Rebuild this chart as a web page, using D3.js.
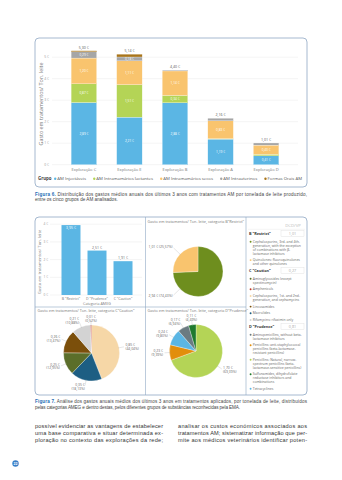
<!DOCTYPE html>
<html>
<head>
<meta charset="utf-8">
<script src="https://cdn.jsdelivr.net/npm/d3@7"></script>
<style>
  html, body { margin: 0; padding: 0; background: #fff; }
  svg { display: block; }
  text { font-family: "Open Sans", "Liberation Sans", sans-serif; }
  .body-text { font-family: "Liberation Sans", Arial, sans-serif; }
</style>
</head>
<body>
<svg id="page" width="342" height="480"></svg>
<script>
// Figura 6: gasto médio anual por exploração e grupo de AM (€/ton. leite)
var farms = ["Exploração C", "Exploração E", "Exploração B", "Exploração A", "Exploração D"];
var groups = ["AM Injectáveis", "AM Intramamários lactantes", "AM Intramamários secos", "AM Intrauterinos", "Formas Orais AM"];
var injectaveis = [2.89, 2.21, 2.88, 1.19, 0.41];
var lactantes = [0.87, 1.51, 0.34, 0.02, 0.07];
var secos = [1.20, 1.11, 1.14, 0.83, 0.43];
var intrauterinos = [0.29, 0.18, 0.04, 0.12, 0.10];
var orais = [0.05, 0.13, 0, 0, 0];
var yTicks6 = [0, 1, 2, 3, 4, 5];

// Figura 7: categorias AMEG
var ameg = ['B "Restrict"', 'D "Prudence"', 'C "Caution"'];
var amegCost = [3.95, 2.51, 1.91];
var yTicks7 = [0, 1, 2, 3, 4];

var restrictCost = [2.94, 1.01];
var cautionCost = [0.85, 0.35, 0.25, 0.26, 0.21, 0.01];
var prudenceCost = [1.70, 0.23, 0.24, 0.17, 0.11];

var dcdvp = ["1,01", "0,27", "0,81"];

// global vars
var blue = "#5bb6e4", green = "#b4d456", orange = "#f9c46e", grey = "#a6a6a6", brown = "#a8741a";
var frame = "#8fa7c4";
var groupColors = [blue, green, orange, grey, brown];

var restrictColors = ["#6e8e1e", "#f9c46e"];
var cautionColors = ["#f6d7a7", "#1d5e83", "#5b6e2a", "#7b4f0b", "#d3d3d3", "#c0392b"];
var prudenceColors = ["#b4d456", "#e28e0c", "#5bb6e4", "#6b7b82", "#1f7a2e"];

var legendRows = [
  { head: ameg[0], value: dcdvp[0], items: [
    { color: "#6e8e1e", lines: ["Cephalosporins, 3rd- and 4th-", "generation, with the exception", "of combinations with β-", "lactamase inhibitors"] },
    { color: "#f9c46e", lines: ["Quinolones: fluoroquinolones", "and other quinolones"] }
  ] },
  { head: ameg[2], value: dcdvp[1], items: [
    { color: "#5b6e2a", lines: ["Aminoglycosides (except", "spectinomycin)"] },
    { color: "#c0392b", lines: ["Amphenicols"] },
    { color: "#f6d7a7", lines: ["Cephalosporins, 1st- and 2nd-", "generation, and cephamycins"] },
    { color: "#7b4f0b", lines: ["Lincosamides"] },
    { color: "#1d5e83", lines: ["Macrolides"] },
    { color: "#d3d3d3", lines: ["Rifamycins: rifaximin only"] }
  ] },
  { head: ameg[1], value: dcdvp[2], items: [
    { color: "#6b7b82", lines: ["Aminopenicillins, without beta-", "lactamase inhibitors"] },
    { color: "#e28e0c", lines: ["Penicillins: anti-staphylococcal", "penicillins (beta-lactamase-", "resistant penicillins)"] },
    { color: "#b4d456", lines: ["Penicillins: Natural, narrow-", "spectrum penicillins (beta-", "lactamase-sensitive penicillins)"] },
    { color: "#1f7a2e", lines: ["Sulfonamides, dihydrofolate", "reductase inhibitors and", "combinations"] },
    { color: "#5bb6e4", lines: ["Tetracyclines"] }
  ] }
];

var svg = d3.select("#page");
svg.append("rect").attr("width", 342).attr("height", 480).attr("fill", "#fff");

var num = function (v) { return d3.format(".2f")(v).replace(".", ","); };
var euro = function (v) { return num(v) + " €"; };
var pct = function (v) { return "(" + num(v * 100) + "%)"; };

function panel(x, y, w, h) {
  svg.append("rect")
    .attr("x", x).attr("y", y).attr("width", w).attr("height", h).attr("rx", 4)
    .attr("fill", "#fff").attr("stroke", frame).attr("stroke-width", 0.8);
}

// ---------- Figura 6 ----------
panel(35, 38, 272, 149);

var x6 = d3.scaleBand().domain(farms).range([52, 298]).paddingInner(0.44).paddingOuter(0.42);
var y6 = d3.scaleLinear().domain([0, 5]).range([164.7, 57.2]);

var g6 = svg.append("g");
g6.selectAll(".grid").data(yTicks6).enter().append("line")
  .attr("x1", 52).attr("x2", 298)
  .attr("y1", function (d) { return y6(d); }).attr("y2", function (d) { return y6(d); })
  .attr("stroke", "#e8e8e8").attr("stroke-width", 0.5);
g6.selectAll(".tick").data(yTicks6).enter().append("text")
  .attr("x", 49).attr("y", function (d) { return y6(d) + 1.2; })
  .attr("text-anchor", "end").attr("font-size", 3.4).attr("fill", "#999")
  .text(function (d) { return d + " €"; });

var rows6 = farms.map(function (f, i) {
  var r = { farm: f };
  r[groups[0]] = injectaveis[i];
  r[groups[1]] = lactantes[i];
  r[groups[2]] = secos[i];
  r[groups[3]] = intrauterinos[i];
  r[groups[4]] = orais[i];
  return r;
});
var series6 = d3.stack().keys(groups)(rows6);

series6.forEach(function (s, k) {
  var layer = g6.append("g");
  layer.selectAll("rect").data(s).enter().append("rect")
    .attr("x", function (d) { return x6(d.data.farm); })
    .attr("y", function (d) { return y6(d[1]); })
    .attr("width", x6.bandwidth())
    .attr("height", function (d) { return Math.max(0, y6(d[0]) - y6(d[1])); })
    .attr("fill", groupColors[k])
    .attr("stroke", "#fff").attr("stroke-width", 0.25);
  layer.selectAll("text").data(s.filter(function (d) { return d[1] - d[0] >= 0.13; })).enter().append("text")
    .attr("x", function (d) { return x6(d.data.farm) + x6.bandwidth() / 2; })
    .attr("y", function (d) { return (y6(d[0]) + y6(d[1])) / 2; })
    .attr("dy", "0.35em")
    .attr("text-anchor", "middle")
    .attr("font-size", function (d) { return Math.min(3.2, (y6(d[0]) - y6(d[1])) * 0.95); })
    .attr("fill", "#fff")
    .text(function (d) { return euro(d[1] - d[0]); });
});

// totals above each bar
g6.selectAll(".total").data(rows6).enter().append("text")
  .attr("x", function (d) { return x6(d.farm) + x6.bandwidth() / 2; })
  .attr("y", function (d) { return y6(d3.sum(groups, function (k) { return d[k]; })) - 1.8; })
  .attr("text-anchor", "middle").attr("font-size", 3.6).attr("fill", "#555")
  .text(function (d) { return euro(d3.sum(groups, function (k) { return d[k]; })); });

g6.selectAll(".xlab").data(farms).enter().append("text")
  .attr("x", function (d) { return x6(d) + x6.bandwidth() / 2; })
  .attr("y", 170.8)
  .attr("text-anchor", "middle").attr("font-size", 4.1).attr("fill", "#777")
  .text(function (d) { return d; });

svg.append("text")
  .attr("transform", "translate(42.5,104) rotate(-90)")
  .attr("text-anchor", "middle").attr("font-size", 5.4).attr("fill", "#777")
  .text("Gasto em tratamentos/ Ton. leite");

// legend row, spread between x=54 and x=302
var leg = svg.append("g");
leg.append("text").attr("x", 38).attr("y", 180.3).attr("font-size", 4.4)
  .attr("font-weight", "bold").attr("fill", "#444").text("Grupo");
var items = groups.map(function (name, i) {
  var t = leg.append("text").attr("y", 180.3).attr("font-size", 4.3)
    .attr("fill", "#555").text(name);
  return { t: t, w: t.node().getComputedTextLength(), color: groupColors[i] };
});
var used = d3.sum(items, function (d) { return d.w + 3.3; });
var gap = (302 - 54 - used) / (items.length - 1);
var lx = 54;
items.forEach(function (d) {
  leg.append("circle").attr("cx", lx + 1.2).attr("cy", 178.8).attr("r", 1.2).attr("fill", d.color);
  d.t.attr("x", lx + 3.3);
  lx += 3.3 + d.w + gap;
});

// caption
function caption(y, label, rest, width) {
  var t = svg.append("text").attr("class", "body-text").attr("x", 35).attr("y", y)
    .attr("font-size", 4.6).attr("fill", "#444");
  if (label) t.append("tspan").attr("fill", "#1e6db3").attr("font-weight", "bold").text(label);
  t.append("tspan").text(rest);
  if (width) t.attr("textLength", width).attr("lengthAdjust", "spacing");
}
caption(195.6, "Figura 6.", " Distribuição dos gastos médios anuais dos últimos 3 anos com tratamentos AM por tonelada de leite produzido,", 272);
caption(201.4, null, "entre os cinco grupos de AM analisados.", null);

// ---------- Figura 7 ----------
panel(35, 217, 272, 178);
svg.append("line").attr("x1", 145.5).attr("x2", 145.5).attr("y1", 217).attr("y2", 395)
  .attr("stroke", frame).attr("stroke-width", 0.6);
svg.append("line").attr("x1", 246).attr("x2", 246).attr("y1", 217).attr("y2", 395)
  .attr("stroke", frame).attr("stroke-width", 0.6);
svg.append("line").attr("x1", 35).attr("x2", 246).attr("y1", 307).attr("y2", 307)
  .attr("stroke", frame).attr("stroke-width", 0.6);

var x7 = d3.scaleBand().domain(ameg).range([52, 142]).paddingInner(0.27).paddingOuter(0.365);
var y7 = d3.scaleLinear().domain([0, 4]).range([295, 224.2]);

var g7 = svg.append("g");
g7.selectAll(".grid").data(yTicks7).enter().append("line")
  .attr("x1", 50).attr("x2", 142)
  .attr("y1", function (d) { return y7(d); }).attr("y2", function (d) { return y7(d); })
  .attr("stroke", "#e8e8e8").attr("stroke-width", 0.5);
g7.selectAll(".tick").data(yTicks7).enter().append("text")
  .attr("x", 48).attr("y", function (d) { return y7(d) + 1.1; })
  .attr("text-anchor", "end").attr("font-size", 3.2).attr("fill", "#999")
  .text(function (d) { return d + " €"; });
g7.selectAll("rect").data(amegCost).enter().append("rect")
  .attr("x", function (d, i) { return x7(ameg[i]); })
  .attr("y", function (d) { return y7(d); })
  .attr("width", x7.bandwidth())
  .attr("height", function (d) { return y7(0) - y7(d); })
  .attr("fill", blue);
g7.selectAll(".val").data(amegCost).enter().append("text")
  .attr("x", function (d, i) { return x7(ameg[i]) + x7.bandwidth() / 2; })
  .attr("y", function (d) { return y7(d) > 232 ? y7(d) - 1.8 : y7(d) + 4.2; })
  .attr("text-anchor", "middle").attr("font-size", 3.5)
  .attr("fill", function (d) { return y7(d) > 232 ? "#666" : "#fff"; })
  .text(function (d) { return euro(d); });
g7.selectAll(".xlab").data(ameg).enter().append("text")
  .attr("x", function (d) { return x7(d) + x7.bandwidth() / 2; })
  .attr("y", 299.6)
  .attr("text-anchor", "middle").attr("font-size", 3.5).attr("fill", "#777")
  .text(function (d) { return d; });
svg.append("text").attr("x", 97).attr("y", 304.8).attr("text-anchor", "middle")
  .attr("font-size", 3.7).attr("fill", "#777").text("Categoria AMEG");
svg.append("text")
  .attr("transform", "translate(41,262) rotate(-90)")
  .attr("text-anchor", "middle").attr("font-size", 4.2).attr("fill", "#777")
  .text("Gasto em tratamentos/ Ton. leite");

// pies; leftOnly puts every label on the left of the pie, on one line
function drawPie(cx, cy, r, values, colors, title, tx, ty, leftOnly) {
  var total = d3.sum(values);
  var arcs = d3.pie().sort(null).value(function (d) { return d; })(values);
  var arc = d3.arc().innerRadius(0).outerRadius(r);
  var g = svg.append("g").attr("transform", "translate(" + cx + "," + cy + ")");
  g.selectAll("path").data(arcs).enter().append("path")
    .attr("d", arc)
    .attr("fill", function (d, i) { return colors[i]; })
    .attr("stroke", "#fff").attr("stroke-width", 0.3);
  arcs.forEach(function (d) {
    var a = (d.startAngle + d.endAngle) / 2;
    var sx = Math.sin(a), sy = -Math.cos(a);
    if (leftOnly) sx = -Math.abs(sx);
    var reach = leftOnly ? 9 : 5;
    g.append("line")
      .attr("x1", sx * (r - 1)).attr("y1", sy * (r - 1))
      .attr("x2", sx * (r + reach)).attr("y2", sy * (r + reach))
      .attr("stroke", "#aaa").attr("stroke-width", 0.3);
    var anchor = sx < -0.15 ? "end" : (sx > 0.15 ? "start" : "middle");
    var px = sx * (r + reach + 1.5), py = sy * (r + reach + 1.5);
    var t = g.append("text").attr("x", px).attr("y", py)
      .attr("text-anchor", anchor).attr("font-size", 3.4).attr("fill", "#666");
    if (leftOnly) {
      t.attr("dy", "0.35em").text(euro(d.data) + " " + pct(d.data / total));
    } else {
      t.append("tspan").attr("x", px).attr("dy", "-0.25em").text(euro(d.data));
      t.append("tspan").attr("x", px).attr("dy", "1.15em").text(pct(d.data / total));
    }
  });
  svg.append("text").attr("x", tx).attr("y", ty).attr("font-size", 3.8).attr("fill", "#777").text(title);
}

drawPie(198, 271.5, 25, restrictCost, restrictColors,
  'Gasto em tratamentos/ Ton. leite, categoria B"Restrict"', 147.5, 222.8, true);
drawPie(91.5, 353, 28, cautionCost, cautionColors,
  'Gasto em tratamentos/ Ton. leite, categoria C"Caution"', 37.5, 312.3, false);
drawPie(196, 351, 26.5, prudenceCost, prudenceColors,
  'Gasto em tratamentos/ Ton. leite, categoria D"Prudence"', 147.5, 312.3, false);

// legend table of AM groups per category
var lg = svg.append("g");
lg.append("text").attr("x", 293).attr("y", 227).attr("text-anchor", "middle")
  .attr("font-size", 4.3).attr("fill", "#bbb").text("DCD/VP");
lg.append("line").attr("x1", 248).attr("x2", 305).attr("y1", 229.3).attr("y2", 229.3)
  .attr("stroke", "#e2e2e2").attr("stroke-width", 0.4);

var ly = 234.8;
legendRows.forEach(function (row) {
  lg.append("text").attr("x", 249).attr("y", ly).attr("font-size", 3.8)
    .attr("font-weight", "bold").attr("fill", "#333").text(row.head);
  lg.append("rect").attr("x", 281).attr("y", ly - 4.3).attr("width", 23).attr("height", 6)
    .attr("fill", "none").attr("stroke", "#dcdcdc").attr("stroke-width", 0.4);
  lg.append("text").attr("x", 292.5).attr("y", ly).attr("text-anchor", "middle")
    .attr("font-size", 3.8).attr("fill", "#aaa").text(row.value);
  ly += 8;
  row.items.forEach(function (item) {
    lg.append("circle").attr("cx", 250.6).attr("cy", ly - 1.1).attr("r", 0.95).attr("fill", item.color);
    item.lines.forEach(function (line, j) {
      lg.append("text").attr("x", 252.8).attr("y", ly + j * 3.9).attr("font-size", 3.4)
        .attr("fill", "#666").text(line);
    });
    ly += (item.lines.length - 1) * 3.9 + 6.7;
  });
});

caption(402.6, "Figura 7.", " Análise dos gastos anuais médios dos últimos 3 anos em tratamentos aplicados, por tonelada de leite, distribuídos", 272);
caption(408.6, null, "pelas categorias AMEG e dentro destas, pelos diferentes grupos de substâncias reconhecidas pela EMA.", 205);

// body text, two columns
var colLeft = ["possível evidenciar as vantagens de estabelecer", "uma base comparativa e situar determinada ex-", "ploração no contexto das explorações da rede;"];
var colRight = ["analisar os custos económicos associados aos", "tratamentos AM; sistematizar informação que per-", "mite aos médicos veterinários identificar poten-"];
function column(lines, x, w) {
  lines.forEach(function (line, i) {
    svg.append("text").attr("class", "body-text").attr("x", x).attr("y", 428 + i * 7.2)
      .attr("font-size", 5.6).attr("fill", "#333")
      .attr("textLength", w).attr("lengthAdjust", "spacing").text(line);
  });
}
column(colLeft, 35, 128);
column(colRight, 178, 129);

// page number
svg.append("circle").attr("cx", 15.5).attr("cy", 463.5).attr("r", 3.2).attr("fill", "#3a7fc8");
svg.append("text").attr("x", 15.5).attr("y", 464.7).attr("text-anchor", "middle")
  .attr("font-size", 3.4).attr("font-weight", "bold").attr("fill", "#fff").text("22");
</script>
</body>
</html>
